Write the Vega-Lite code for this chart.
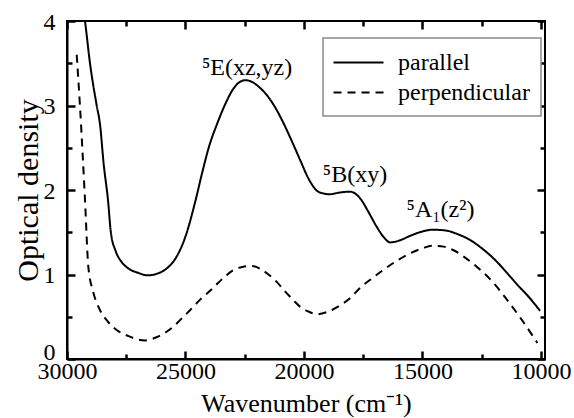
{
  "$schema": "https://vega.github.io/schema/vega-lite/v6.json",
  "width": 478,
  "height": 338,
  "autosize": {"type": "none"},
  "padding": {"left": 67, "top": 21, "right": 29, "bottom": 59},
  "config": {
    "view": {"stroke": "black", "strokeWidth": 2},
    "axis": {
      "domainColor": "black", "domainWidth": 2, "tickColor": "black", "tickWidth": 2.5, "zindex": 1,
      "grid": false, "labelFont": "Liberation Serif", "labelFontSize": 24, "labelColor": "black",
      "titleFont": "Liberation Serif", "titleColor": "black", "titleFontWeight": "normal", "labelFlush": false
    },
    "legend": {
      "orient": "none", "legendX": 256, "legendY": 17, "strokeColor": "#8a8a8a", "strokeWidth": 1.5,
      "fillColor": "white", "padding": 11, "symbolType": "M-2,0H2", "symbolSize": 625, "symbolOffset": 11,
      "symbolStrokeWidth": 2, "symbolStrokeColor": "black", "symbolFillColor": "transparent", "labelFont": "Liberation Serif",
      "labelFontSize": 24, "labelColor": "black", "labelOffset": 26, "rowPadding": 4, "labelLimit": 0
    }
  },
  "datasets": {
    "spectra": [
      {"series": "parallel", "wavenumber": 29450, "od": 4.4},
      {"series": "parallel", "wavenumber": 29241, "od": 4.0},
      {"series": "parallel", "wavenumber": 29030, "od": 3.5},
      {"series": "parallel", "wavenumber": 28747, "od": 3.0},
      {"series": "parallel", "wavenumber": 28608, "od": 2.78},
      {"series": "parallel", "wavenumber": 28450, "od": 2.3},
      {"series": "parallel", "wavenumber": 28270, "od": 1.88},
      {"series": "parallel", "wavenumber": 28150, "od": 1.5},
      {"series": "parallel", "wavenumber": 27950, "od": 1.28},
      {"series": "parallel", "wavenumber": 27700, "od": 1.15},
      {"series": "parallel", "wavenumber": 27400, "od": 1.07},
      {"series": "parallel", "wavenumber": 27000, "od": 1.02},
      {"series": "parallel", "wavenumber": 26600, "od": 0.99},
      {"series": "parallel", "wavenumber": 26200, "od": 1.01},
      {"series": "parallel", "wavenumber": 25800, "od": 1.07},
      {"series": "parallel", "wavenumber": 25400, "od": 1.2},
      {"series": "parallel", "wavenumber": 25000, "od": 1.45},
      {"series": "parallel", "wavenumber": 24600, "od": 1.85},
      {"series": "parallel", "wavenumber": 24300, "od": 2.2},
      {"series": "parallel", "wavenumber": 24000, "od": 2.52},
      {"series": "parallel", "wavenumber": 23670, "od": 2.78},
      {"series": "parallel", "wavenumber": 23300, "od": 3.03},
      {"series": "parallel", "wavenumber": 23000, "od": 3.19},
      {"series": "parallel", "wavenumber": 22700, "od": 3.28},
      {"series": "parallel", "wavenumber": 22450, "od": 3.3},
      {"series": "parallel", "wavenumber": 22200, "od": 3.28},
      {"series": "parallel", "wavenumber": 21900, "od": 3.22},
      {"series": "parallel", "wavenumber": 21560, "od": 3.12},
      {"series": "parallel", "wavenumber": 21200, "od": 2.97},
      {"series": "parallel", "wavenumber": 20880, "od": 2.8},
      {"series": "parallel", "wavenumber": 20500, "od": 2.57},
      {"series": "parallel", "wavenumber": 20170, "od": 2.36},
      {"series": "parallel", "wavenumber": 19800, "od": 2.13},
      {"series": "parallel", "wavenumber": 19450, "od": 1.99},
      {"series": "parallel", "wavenumber": 19200, "od": 1.96},
      {"series": "parallel", "wavenumber": 18900, "od": 1.95},
      {"series": "parallel", "wavenumber": 18500, "od": 1.97},
      {"series": "parallel", "wavenumber": 18060, "od": 1.98},
      {"series": "parallel", "wavenumber": 17800, "od": 1.95},
      {"series": "parallel", "wavenumber": 17600, "od": 1.89},
      {"series": "parallel", "wavenumber": 17300, "od": 1.75},
      {"series": "parallel", "wavenumber": 16920, "od": 1.56},
      {"series": "parallel", "wavenumber": 16600, "od": 1.43},
      {"series": "parallel", "wavenumber": 16370, "od": 1.38},
      {"series": "parallel", "wavenumber": 16000, "od": 1.4},
      {"series": "parallel", "wavenumber": 15500, "od": 1.46},
      {"series": "parallel", "wavenumber": 15000, "od": 1.51},
      {"series": "parallel", "wavenumber": 14560, "od": 1.53},
      {"series": "parallel", "wavenumber": 14000, "od": 1.52},
      {"series": "parallel", "wavenumber": 13540, "od": 1.48},
      {"series": "parallel", "wavenumber": 13000, "od": 1.41},
      {"series": "parallel", "wavenumber": 12450, "od": 1.3},
      {"series": "parallel", "wavenumber": 12000, "od": 1.19},
      {"series": "parallel", "wavenumber": 11500, "od": 1.04},
      {"series": "parallel", "wavenumber": 11000, "od": 0.88},
      {"series": "parallel", "wavenumber": 10500, "od": 0.73},
      {"series": "parallel", "wavenumber": 10040, "od": 0.57},
      {"series": "perpendicular", "wavenumber": 29590, "od": 3.6},
      {"series": "perpendicular", "wavenumber": 29450, "od": 2.98},
      {"series": "perpendicular", "wavenumber": 29240, "od": 1.88},
      {"series": "perpendicular", "wavenumber": 29100, "od": 1.09},
      {"series": "perpendicular", "wavenumber": 28900, "od": 0.8},
      {"series": "perpendicular", "wavenumber": 28610, "od": 0.58},
      {"series": "perpendicular", "wavenumber": 28300, "od": 0.45},
      {"series": "perpendicular", "wavenumber": 27890, "od": 0.34},
      {"series": "perpendicular", "wavenumber": 27400, "od": 0.27},
      {"series": "perpendicular", "wavenumber": 26710, "od": 0.22},
      {"series": "perpendicular", "wavenumber": 26200, "od": 0.26},
      {"series": "perpendicular", "wavenumber": 25530, "od": 0.38},
      {"series": "perpendicular", "wavenumber": 25230, "od": 0.46},
      {"series": "perpendicular", "wavenumber": 24800, "od": 0.58},
      {"series": "perpendicular", "wavenumber": 24390, "od": 0.7},
      {"series": "perpendicular", "wavenumber": 23840, "od": 0.84},
      {"series": "perpendicular", "wavenumber": 23400, "od": 0.96},
      {"series": "perpendicular", "wavenumber": 22990, "od": 1.05},
      {"series": "perpendicular", "wavenumber": 22600, "od": 1.09},
      {"series": "perpendicular", "wavenumber": 22194, "od": 1.1},
      {"series": "perpendicular", "wavenumber": 21800, "od": 1.06},
      {"series": "perpendicular", "wavenumber": 21500, "od": 1.0},
      {"series": "perpendicular", "wavenumber": 21140, "od": 0.91},
      {"series": "perpendicular", "wavenumber": 20800, "od": 0.8},
      {"series": "perpendicular", "wavenumber": 20460, "od": 0.7},
      {"series": "perpendicular", "wavenumber": 20170, "od": 0.62},
      {"series": "perpendicular", "wavenumber": 19800, "od": 0.56},
      {"series": "perpendicular", "wavenumber": 19450, "od": 0.53},
      {"series": "perpendicular", "wavenumber": 19000, "od": 0.56},
      {"series": "perpendicular", "wavenumber": 18500, "od": 0.63},
      {"series": "perpendicular", "wavenumber": 18060, "od": 0.72},
      {"series": "perpendicular", "wavenumber": 17640, "od": 0.84},
      {"series": "perpendicular", "wavenumber": 17100, "od": 0.96},
      {"series": "perpendicular", "wavenumber": 16670, "od": 1.05},
      {"series": "perpendicular", "wavenumber": 16100, "od": 1.16},
      {"series": "perpendicular", "wavenumber": 15530, "od": 1.25},
      {"series": "perpendicular", "wavenumber": 15000, "od": 1.31},
      {"series": "perpendicular", "wavenumber": 14560, "od": 1.34},
      {"series": "perpendicular", "wavenumber": 14100, "od": 1.33},
      {"series": "perpendicular", "wavenumber": 13710, "od": 1.29},
      {"series": "perpendicular", "wavenumber": 13200, "od": 1.2},
      {"series": "perpendicular", "wavenumber": 12700, "od": 1.09},
      {"series": "perpendicular", "wavenumber": 12000, "od": 0.9},
      {"series": "perpendicular", "wavenumber": 11430, "od": 0.7},
      {"series": "perpendicular", "wavenumber": 10800, "od": 0.46},
      {"series": "perpendicular", "wavenumber": 10150, "od": 0.19}
    ],
    "labels": [
      {"wavenumber": 22400, "od": 3.36, "label": "⁵E(xz,yz)"},
      {"wavenumber": 17850, "od": 2.09, "label": "⁵B(xy)"},
      {"wavenumber": 14240, "od": 1.68, "label": "⁵A₁(z²)"}
    ]
  },
  "resolve": {"axis": {"x": "independent", "y": "independent"}},
  "layer": [
    {
      "data": {"name": "spectra"},
      "mark": {"type": "line", "color": "black", "strokeWidth": 2, "interpolate": "monotone", "clip": true},
      "encoding": {
        "x": {"field": "wavenumber", "type": "quantitative",
          "scale": {"domain": [30000, 9830], "nice": false, "zero": false},
          "axis": {"orient": "bottom", "values": [30000, 25000, 20000, 15000, 10000], "ticks": false, "labelPadding": 0,
            "format": "d", "title": "Wavenumber (cm⁻¹)", "titleFontSize": 26, "titleX": 239, "titleY": 52,
            "titleBaseline": "alphabetic", "titleAlign": "center"}},
        "y": {"field": "od", "type": "quantitative",
          "scale": {"domain": [0, 4], "nice": false, "zero": false},
          "axis": {"orient": "left", "values": [0, 1, 2, 3, 4], "ticks": false, "labelPadding": 12, "format": "d",
            "labelOffset": {"condition": {"test": "datum.value === 0", "value": -7}, "value": 1},
            "title": "Optical density", "titleFontSize": 30, "titleX": -30, "titleY": 169, "titleAngle": -90,
            "titleBaseline": "alphabetic", "titleAlign": "center"}},
        "strokeDash": {"field": "series", "type": "nominal",
          "scale": {"domain": ["parallel", "perpendicular"], "range": [[1, 0], [8, 6]]},
          "legend": {"title": null}}
      }
    },
    {
      "data": {"name": "spectra"},
      "mark": {"type": "line", "opacity": 0},
      "encoding": {
        "detail": {"field": "series"},
        "x": {"field": "wavenumber", "type": "quantitative",
          "scale": {"domain": [30000, 9830], "nice": false, "zero": false},
          "axis": {"orient": "bottom", "values": [30000, 25000, 20000, 15000, 10000], "offset": -8, "tickSize": 8, "domain": false, "labels": false, "title": null}},
        "y": {"field": "od", "type": "quantitative",
          "scale": {"domain": [0, 4], "nice": false, "zero": false},
          "axis": {"orient": "left", "values": [0, 1, 2, 3, 4], "offset": -8, "tickSize": 8, "domain": false, "labels": false, "title": null}}
      }
    },
    {
      "data": {"name": "spectra"},
      "mark": {"type": "line", "opacity": 0},
      "encoding": {
        "detail": {"field": "series"},
        "x": {"field": "wavenumber", "type": "quantitative",
          "scale": {"domain": [30000, 9830], "nice": false, "zero": false},
          "axis": {"orient": "bottom", "values": [27500, 22500, 17500, 12500], "offset": -5, "tickSize": 5, "domain": false, "labels": false, "title": null}},
        "y": {"field": "od", "type": "quantitative",
          "scale": {"domain": [0, 4], "nice": false, "zero": false},
          "axis": {"orient": "left", "values": [0.5, 1.5, 2.5, 3.5], "offset": -5, "tickSize": 5, "domain": false, "labels": false, "title": null}}
      }
    },
    {
      "data": {"name": "spectra"},
      "mark": {"type": "line", "opacity": 0},
      "encoding": {
        "detail": {"field": "series"},
        "x": {"field": "wavenumber", "type": "quantitative",
          "scale": {"domain": [30000, 9830], "nice": false, "zero": false},
          "axis": {"orient": "top", "values": [30000, 25000, 20000, 15000, 10000], "offset": -8, "tickSize": 8, "domain": false, "labels": false, "title": null}},
        "y": {"field": "od", "type": "quantitative",
          "scale": {"domain": [0, 4], "nice": false, "zero": false},
          "axis": {"orient": "right", "values": [0, 1, 2, 3, 4], "offset": -8, "tickSize": 8, "domain": false, "labels": false, "title": null}}
      }
    },
    {
      "data": {"name": "spectra"},
      "mark": {"type": "line", "opacity": 0},
      "encoding": {
        "detail": {"field": "series"},
        "x": {"field": "wavenumber", "type": "quantitative",
          "scale": {"domain": [30000, 9830], "nice": false, "zero": false},
          "axis": {"orient": "top", "values": [27500, 22500, 17500, 12500], "offset": -5, "tickSize": 5, "domain": false, "labels": false, "title": null}},
        "y": {"field": "od", "type": "quantitative",
          "scale": {"domain": [0, 4], "nice": false, "zero": false},
          "axis": {"orient": "right", "values": [0.5, 1.5, 2.5, 3.5], "offset": -5, "tickSize": 5, "domain": false, "labels": false, "title": null}}
      }
    },
    {
      "data": {"name": "labels"},
      "mark": {"type": "text", "font": "Liberation Serif", "fontSize": 24, "align": "center", "baseline": "alphabetic", "color": "black"},
      "encoding": {
        "x": {"field": "wavenumber", "type": "quantitative",
          "scale": {"domain": [30000, 9830], "nice": false, "zero": false}, "axis": null},
        "y": {"field": "od", "type": "quantitative",
          "scale": {"domain": [0, 4], "nice": false, "zero": false}, "axis": null},
        "text": {"field": "label"}
      }
    }
  ]
}
